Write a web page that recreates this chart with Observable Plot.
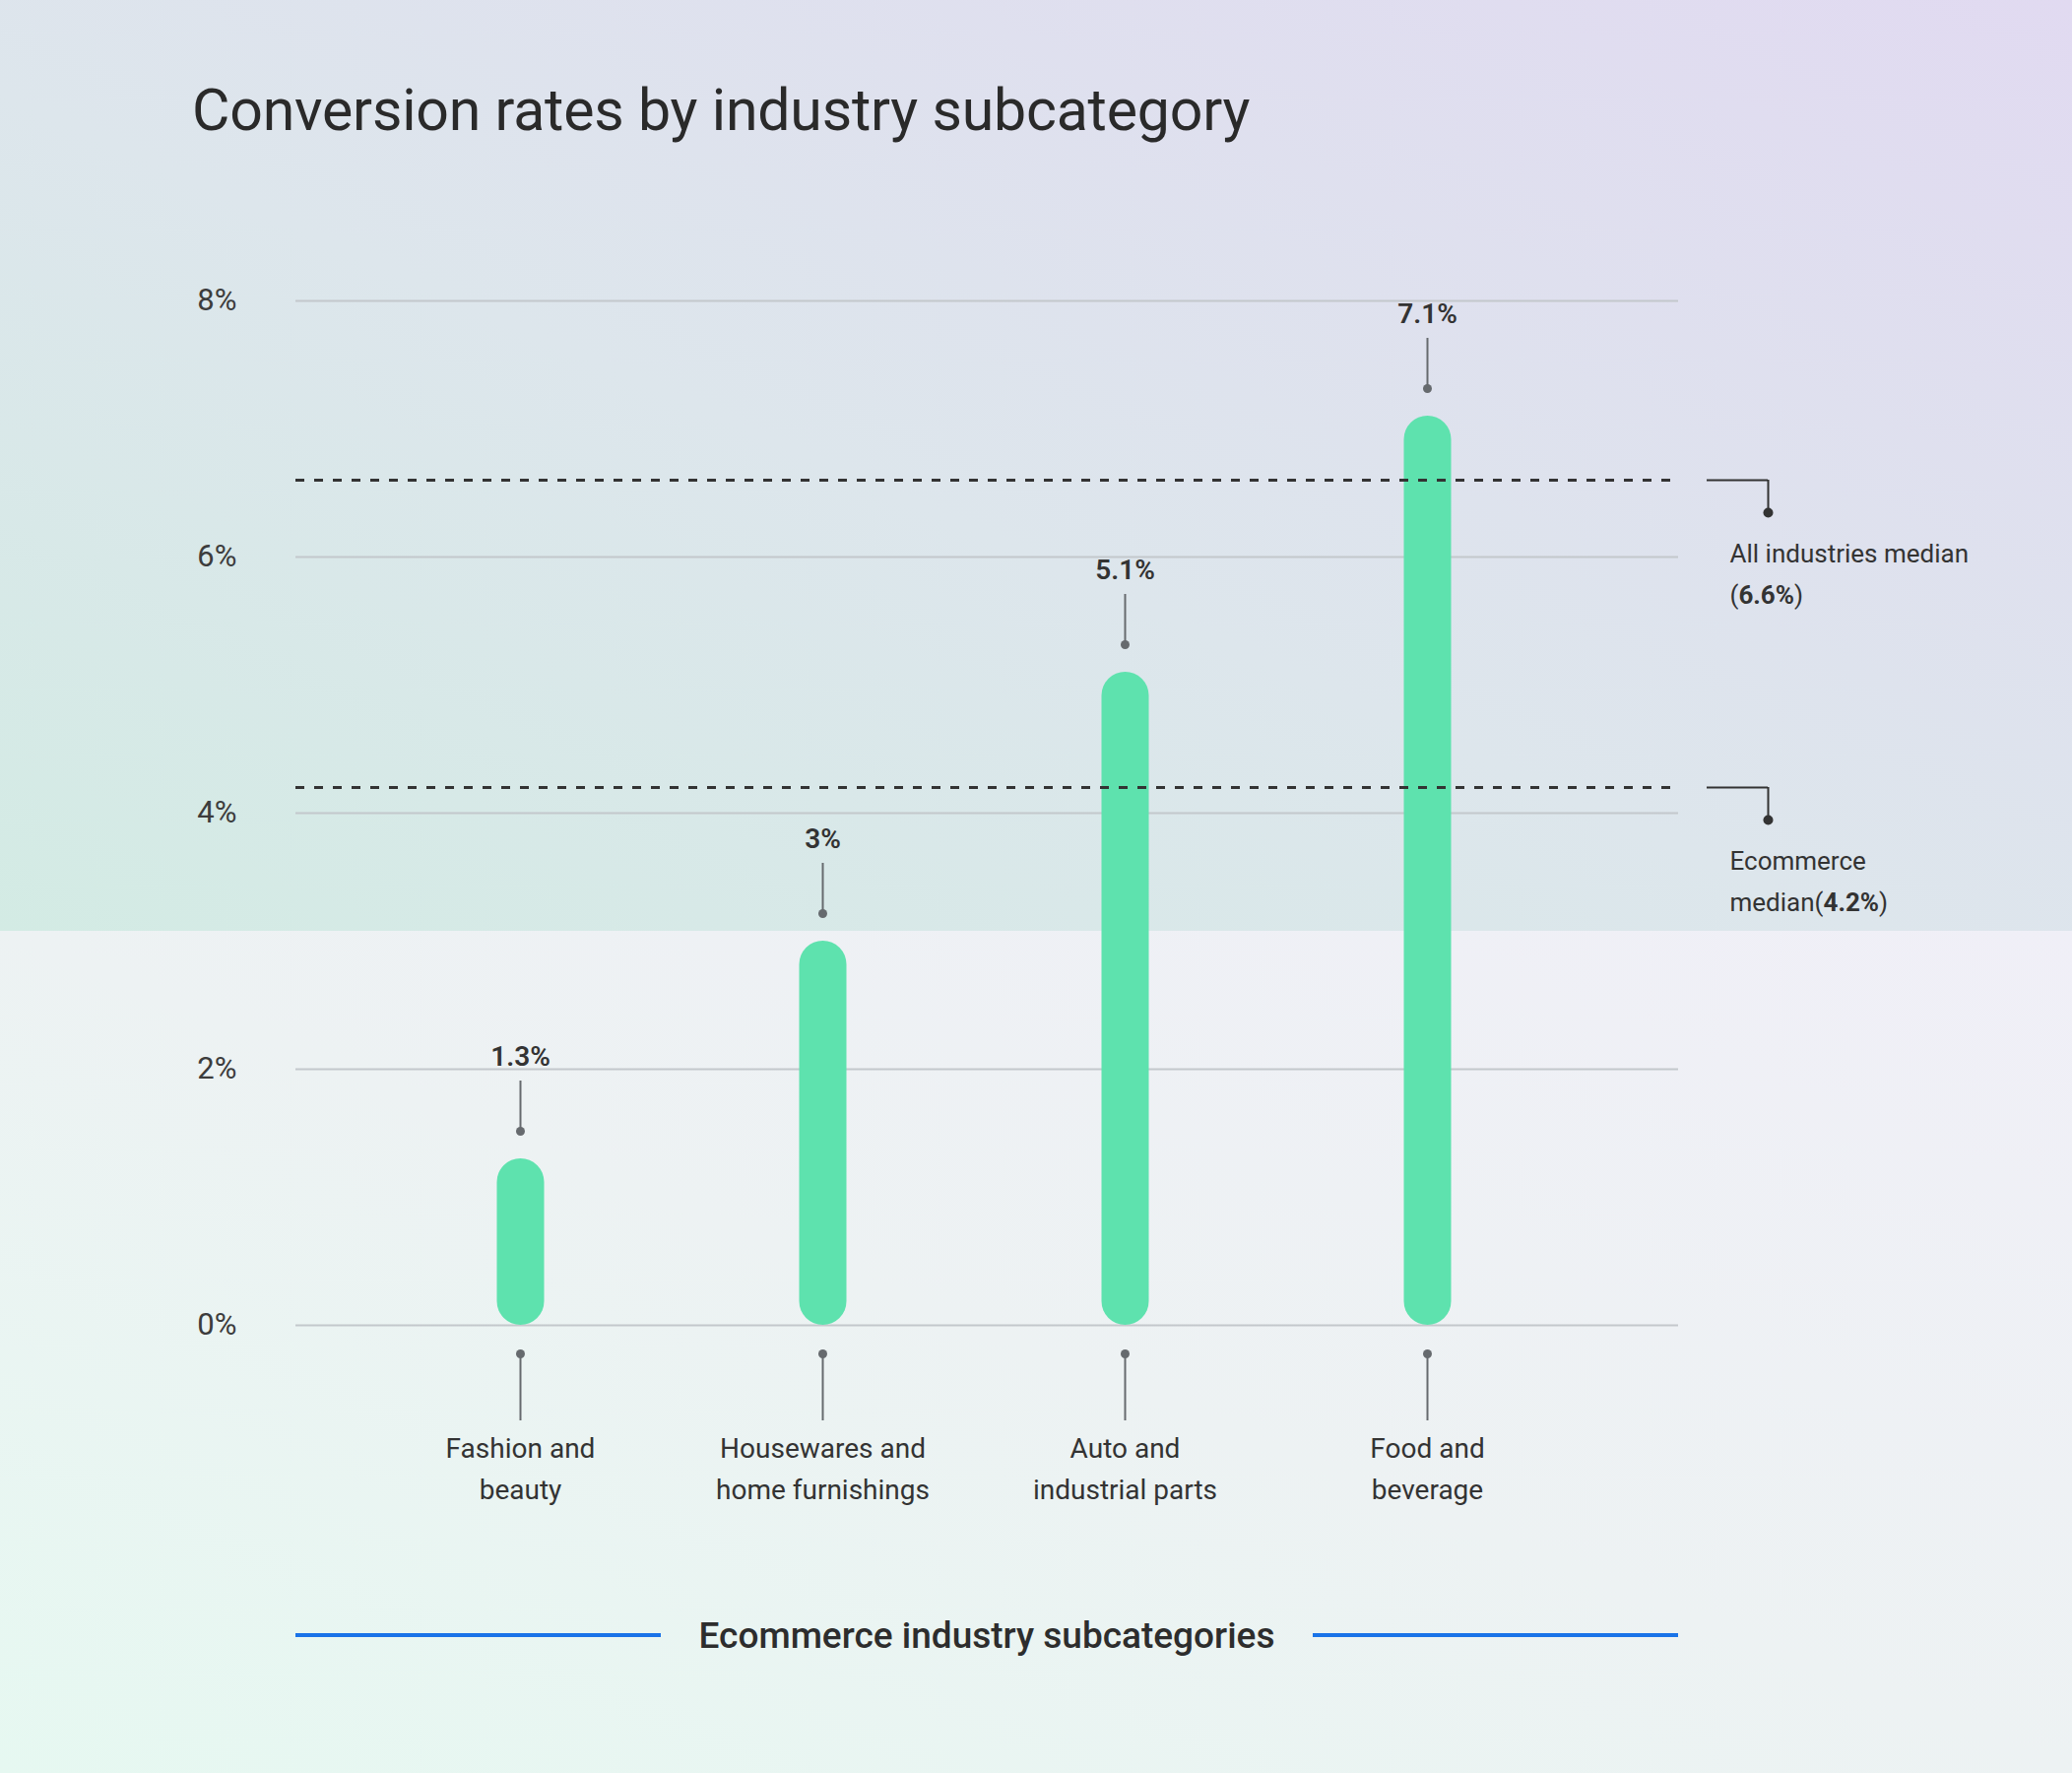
<!DOCTYPE html>
<html>
<head>
<meta charset="utf-8">
<script src="https://cdn.jsdelivr.net/npm/d3@7"></script>
<script src="https://cdn.jsdelivr.net/npm/@observablehq/plot@0.6"></script>
<style>
  html, body { margin: 0; padding: 0; overflow: hidden; }
  #page { position: relative; width: 2104px; height: 1800px; overflow: hidden; font-family: Roboto, sans-serif; }
  #bgTop { position: absolute; left: 0; top: 0; width: 2104px; height: 945px;
    background: linear-gradient(to top right, #d3ebe4 0%, #dde6ec 45%, #e1daf1 100%); }
  #bgBot { position: absolute; left: 0; top: 945px; width: 2104px; height: 855px;
    background: linear-gradient(to top right, #e6f8f1 0%, #edf2f3 50%, #f0eff7 100%); }
  #chart { position: absolute; left: 0; top: 0; }
  #title { position: absolute; left: 195px; top: 82px; margin: 0; font-size: 59px; line-height: 59px;
    font-weight: 400; color: #2a2a2a; white-space: nowrap; letter-spacing: -0.2px; }
  #caption { position: absolute; left: 300px; top: 1636px; width: 1404px; height: 48px;
    display: flex; align-items: center; }
  #caption .line { flex: 0 0 371px; height: 4px; background: #1a73e8; }
  #caption .cap { flex: 1; text-align: center; font-size: 37px; font-weight: 500; color: #2d2d2d; white-space: nowrap; }
</style>
</head>
<body>
<div id="page">
  <div id="bgTop"></div>
  <div id="bgBot"></div>
  <div id="chart"></div>
  <h1 id="title">Conversion rates by industry subcategory</h1>
  <div id="caption"><div class="line"></div><div class="cap">Ecommerce industry subcategories</div><div class="line"></div></div>
</div>
<script>
// ---- data ----
const categories = ["Fashion and\nbeauty", "Housewares and\nhome furnishings", "Auto and\nindustrial parts", "Food and\nbeverage"];
const rates = [1.3, 3, 5.1, 7.1];
const yTicks = [0, 2, 4, 6, 8];
const medianValues = [6.6, 4.2];
const medianLine1 = ["All industries median", "Ecommerce"];
const medianLine2 = ["", "median"];

// ---- layout ----
const W = 2104, H = 1800;
const mL = 300, mR = 400, mT = 305, mB = 455;
const plotW = W - mL - mR;
const frameCenterX = (mL + W - mR) / 2;
const annOffset = 91; // connector elbow distance right of the frame

const data = categories.map((category, i) => ({category, rate: rates[i]}));

const leadColor = "#666a6e";
const inkColor = "#333333";

const chart = Plot.plot({
  width: W,
  height: H,
  marginLeft: mL,
  marginRight: mR,
  marginTop: mT,
  marginBottom: mB,
  style: {background: "transparent", fontFamily: "Roboto, sans-serif", fontSize: "31px", color: "#3c3c3c", overflow: "visible"},
  x: {type: "point", domain: categories, padding: 0.738, insetRight: 27, axis: null},
  y: {domain: [0, 8], ticks: yTicks, tickFormat: d => d + "%", tickSize: 0, tickPadding: 60, label: null},
  marks: [
    Plot.ruleY(yTicks, {stroke: "#c3c8cc", strokeWidth: 2}),
    // bars (rounded)
    Plot.ruleX(data, {x: "category", y1: "rate", y2: 0, stroke: "#5ee2ae", strokeWidth: 48,
      strokeLinecap: "round", insetTop: 24, insetBottom: 24}),
    // median dashed lines
    Plot.ruleY(medianValues, {stroke: inkColor, strokeWidth: 3, strokeDasharray: "9,10"}),
    // value leaders
    Plot.ruleX(data, {x: "category", y1: "rate", y2: "rate", insetTop: -51, dy: -28, stroke: leadColor, strokeWidth: 2}),
    Plot.dot(data, {x: "category", y: "rate", dy: -28, r: 4.5, fill: leadColor, stroke: null}),
    Plot.text(data, {x: "category", y: "rate", dy: -103, text: d => d.rate + "%", fontSize: 28,
      fontWeight: 600, fill: inkColor}),
    // category leaders
    Plot.dot(data, {x: "category", frameAnchor: "bottom", dy: 29, r: 4.5, fill: leadColor, stroke: null}),
    Plot.ruleX(data, {x: "category", y1: 0, y2: 0, dy: 29, insetBottom: -68, stroke: leadColor, strokeWidth: 2}),
    Plot.text(data, {x: "category", frameAnchor: "bottom", dy: 134, text: d => d.category.split("\n")[0],
      fontSize: 28, fill: inkColor}),
    Plot.text(data, {x: "category", frameAnchor: "bottom", dy: 176, text: d => d.category.split("\n")[1],
      fontSize: 28, fill: inkColor}),
    // median annotation connectors
    Plot.ruleY(medianValues, {insetLeft: plotW + 29, insetRight: -annOffset, stroke: inkColor, strokeWidth: 2}),
    Plot.ruleX(medianValues, {x: null, y1: d => d, y2: d => d, insetBottom: -33,
      dx: (W - mR + annOffset) - frameCenterX, stroke: inkColor, strokeWidth: 2}),
    Plot.dot(medianValues, {y: d => d, frameAnchor: "right", dx: annOffset, dy: 33, r: 5, fill: inkColor, stroke: null}),
    Plot.text(medianValues, {y: d => d, frameAnchor: "right", textAnchor: "start", dx: 52, dy: 75,
      text: (d, i) => medianLine1[i], fontSize: 26, fill: inkColor}),
    Plot.text(medianValues, {y: d => d, frameAnchor: "right", textAnchor: "start", dx: 52, dy: 117,
      text: (d, i) => medianLine2[i] + "(" + d + "%)", fontSize: 26, fill: inkColor})
  ]
});

// bold the percentage inside parentheses
chart.querySelectorAll("text").forEach(t => {
  if (t.children.length) return;
  const m = (t.textContent || "").match(/^(.*\()([\d.]+%)(\))$/);
  if (m) {
    t.textContent = "";
    const ns = "http://www.w3.org/2000/svg";
    const a = document.createElementNS(ns, "tspan"); a.textContent = m[1];
    const b = document.createElementNS(ns, "tspan"); b.textContent = m[2]; b.setAttribute("font-weight", "700");
    const c = document.createElementNS(ns, "tspan"); c.textContent = m[3];
    t.append(a, b, c);
  }
});

document.getElementById("chart").appendChild(chart);
</script>
</body>
</html>
